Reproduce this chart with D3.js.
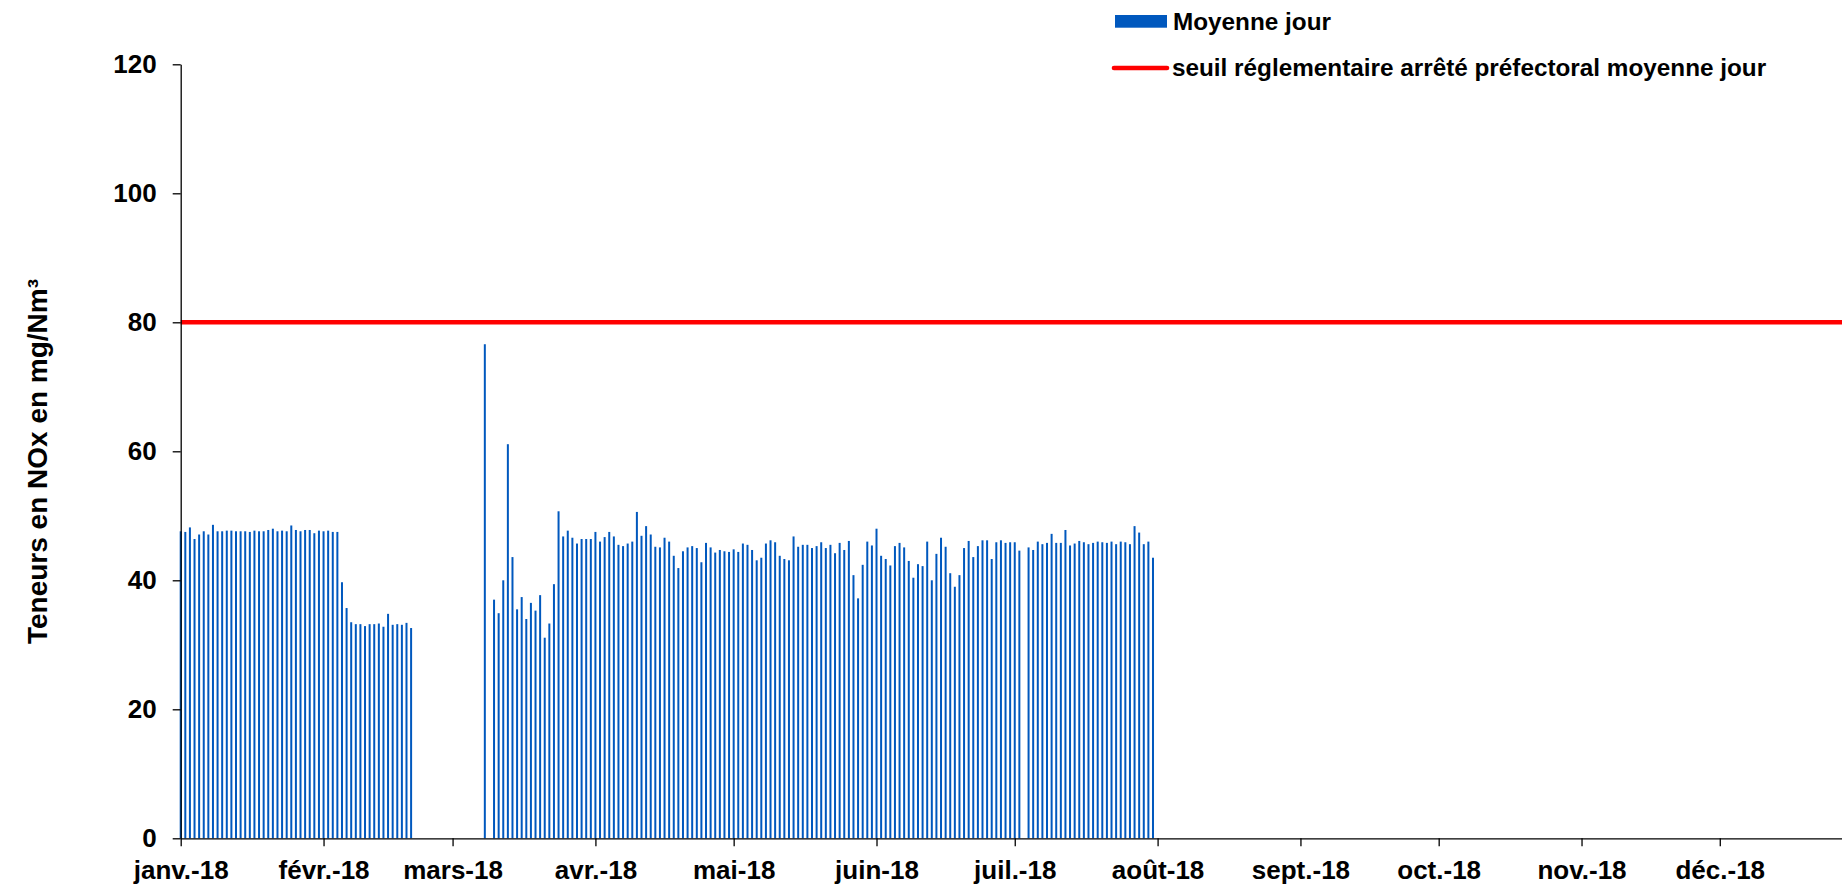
<!DOCTYPE html>
<html>
<head>
<meta charset="utf-8">
<script src="https://cdn.jsdelivr.net/npm/d3@7"></script>
<style>
    body { margin: 0; background: #fff; }
    svg text { font-family: "Liberation Sans", Arial, sans-serif; font-weight: bold; fill: #000; }
</style>
</head>
<body>
<div id="chart"></div>
<script>
// moyennes journalieres NOx (mg/Nm3), une valeur par jour a partir du 1er janvier 2018
// null = pas de mesure
const startDate = "2018-01-01";
const janv = [47.6, 47.5, 48.2, 46.4, 47.1, 47.6, 47.1, 48.6, 47.6, 47.6, 47.7, 47.7, 47.6, 47.6, 47.6, 47.5,
    47.7, 47.6, 47.6, 47.8, 48.0, 47.6, 47.7, 47.6, 48.5, 47.8, 47.6, 47.8, 47.8, 47.3, 47.7];
const fevr = [47.6, 47.7, 47.5, 47.5, 39.7, 35.7, 33.5, 33.2, 33.2, 32.9, 33.2, 33.2, 33.3, 32.8, 34.8, 33.1,
    33.2, 33.1, 33.4, 32.6, null, null, null, null, null, null, null, null];
const mars = [null, null, null, null, null, null, null, 76.6, null, 37.0, 34.9, 40.0, 61.1, 43.6, 35.5, 37.4,
    34.0, 36.5, 35.3, 37.7, 31.1, 33.3, 39.4, 50.7, 46.8, 47.7, 46.6, 45.7, 46.4, 46.4, 46.4];
const avr = [47.5, 46.0, 46.7, 47.5, 46.8, 45.5, 45.3, 45.7, 46.0, 50.6, 46.9, 48.4, 47.1, 45.2, 45.1, 46.6,
    46.0, 43.8, 41.9, 44.5, 45.1, 45.3, 45.0, 42.8, 45.8, 45.1, 44.3, 44.7, 44.5, 44.4];
const mai = [44.8, 44.4, 45.7, 45.5, 44.7, 43.1, 43.5, 45.7, 46.2, 45.9, 43.8, 43.3, 43.1, 46.8, 45.2, 45.5,
    45.5, 45.0, 45.3, 45.9, 45.0, 45.5, 44.2, 45.8, 44.7, 46.1, 40.8, 37.2, 42.4, 46.0, 45.4];
const juin = [48.0, 43.8, 43.3, 42.3, 45.3, 45.8, 45.1, 43.0, 40.4, 42.5, 42.2, 46.0, 40.0, 44.1, 46.6, 45.2,
    41.1, 39.0, 40.8, 45.0, 46.1, 43.6, 45.3, 46.2, 46.2, 43.3, 45.9, 46.2, 45.8, 45.9];
const juil = [45.9, 44.6, null, 45.1, 44.7, 46.0, 45.6, 45.8, 47.2, 45.8, 45.8, 47.8, 45.4, 45.7, 46.1, 45.9,
    45.6, 45.8, 46.0, 45.9, 45.8, 46.0, 45.6, 46.0, 45.9, 45.6, 48.4, 47.4, 45.6, 46.0, 43.5];

const seuil = 80;
const monthLabels = ["janv.-18", "févr.-18", "mars-18", "avr.-18", "mai-18", "juin-18",
    "juil.-18", "août-18", "sept.-18", "oct.-18", "nov.-18", "déc.-18"];
const yTicks = [0, 20, 40, 60, 80, 100, 120];

const width = 1842, height = 886;
const blue = "#0058be";

const svg = d3.select("#chart").append("svg")
    .attr("width", width)
    .attr("height", height);

const t0 = new Date(startDate + "T00:00:00Z");
const t1 = d3.utcYear.offset(t0, 1);
// the year runs a bit past the right edge of the picture, like the original export
const x = d3.scaleUtc()
    .domain([t0, t1])
    .range([180.7, 180.7 + 365 * 4.608]);
const y = d3.scaleLinear()
    .domain([0, 120])
    .range([838.3, 64.3]);

let data = [].concat(janv, fevr, mars, avr, mai, juin, juil)
    .map(function(v, i) { return { date: d3.utcDay.offset(t0, i), value: v }; })
    .filter(function(d) { return d.value !== null; });

// bars
svg.append("g")
    .selectAll("rect")
    .data(data)
    .enter()
    .append("rect")
    .attr("x", function(d) { return x(d.date) - 1; })
    .attr("y", function(d) { return y(d.value); })
    .attr("width", 2)
    .attr("height", function(d) { return y(0) - y(d.value); })
    .attr("fill", blue);

// seuil
const seuilLine = d3.line()
    .x(function(d) { return x(d); })
    .y(function() { return y(seuil); });
svg.append("path")
    .datum([t0, t1])
    .attr("d", seuilLine)
    .attr("fill", "none")
    .attr("stroke", "#ff0000")
    .attr("stroke-width", 4.6);

// axes
const months = d3.utcMonth.range(t0, t1);
const xAxis = d3.axisBottom(x)
    .tickValues(months)
    .tickFormat(function(d, i) { return monthLabels[i]; })
    .tickSize(8)
    .tickSizeOuter(0)
    .tickPadding(14);
const gx = svg.append("g")
    .attr("transform", "translate(0," + y(0) + ")")
    .call(xAxis);
gx.selectAll("text").style("font-size", "26px");

const yAxis = d3.axisLeft(y)
    .tickValues(yTicks)
    .tickSize(8)
    .tickSizeOuter(0)
    .tickPadding(16);
const gy = svg.append("g")
    .attr("transform", "translate(" + x(t0) + ",0)")
    .call(yAxis);
gy.selectAll("text").style("font-size", "26px");
svg.selectAll(".domain, .tick line").attr("stroke", "#000").attr("stroke-width", 1.3);

svg.append("text")
    .attr("transform", "translate(47,461.5) rotate(-90)")
    .attr("text-anchor", "middle")
    .style("font-size", "28px")
    .text("Teneurs en NOx en mg/Nm³");

// legende
const legend = svg.append("g");
legend.append("rect")
    .attr("x", 1115)
    .attr("y", 15)
    .attr("width", 52)
    .attr("height", 12.7)
    .attr("fill", blue);
legend.append("text")
    .attr("x", 1173)
    .attr("y", 29.6)
    .style("font-size", "24.3px")
    .text("Moyenne jour");
legend.append("line")
    .attr("x1", 1114)
    .attr("x2", 1167)
    .attr("y1", 68)
    .attr("y2", 68)
    .attr("stroke", "#ff0000")
    .attr("stroke-width", 4.6)
    .attr("stroke-linecap", "round");
legend.append("text")
    .attr("x", 1172)
    .attr("y", 76.3)
    .style("font-size", "24.3px")
    .text("seuil réglementaire arrêté préfectoral moyenne jour");
</script>
</body>
</html>
